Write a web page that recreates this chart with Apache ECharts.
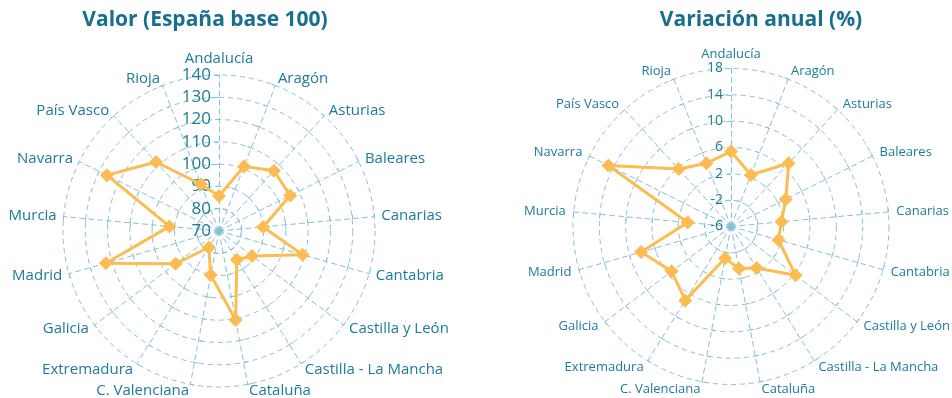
<!DOCTYPE html>
<html>
<head>
<meta charset="utf-8">
<script src="https://cdn.jsdelivr.net/npm/echarts@6/dist/echarts.min.js"></script>
</head>
<body style="margin:0; background:#fff">
<div id="container" style="width:952px; height:398px"></div>
<script>
// regions, clockwise from top as in the picture
var regions = ['Andalucía', 'Aragón', 'Asturias', 'Baleares', 'Canarias', 'Cantabria',
    'Castilla y León', 'Castilla - La Mancha', 'Cataluña', 'C. Valenciana', 'Extremadura',
    'Galicia', 'Madrid', 'Murcia', 'Navarra', 'País Vasco', 'Rioja'];
var valor = [85.7, 101, 106.6, 105.7, 89.9, 109, 88.6, 85.2, 110.6, 90.1, 78.7,
    94.4, 122.8, 92.3, 126.2, 111.9, 92.5];
var variacion = [5.4, 2.4, 7.0, 3.3, 1.7, 1.5, 6.3, 1.4, 0.5, -1.1, 7.2,
    5.3, 8.2, 0.6, 14.8, 5.8, 4.3];
var valorScale = [70, 140, 7];    // min, max, rings
var variacionScale = [-6, 18, 6];

var textColor = '#1b7b9b';
var gridColor = '#86c0d4';
var lineColor = '#fcbc52';
var font = 'Open Sans';

// echarts lays radar axes counterclockwise, the picture goes clockwise
function clockwise(arr) {
    return [arr[0]].concat(arr.slice(1).reverse());
}

function makeRadar(center, radius, scale, nameSize, labelSize, gap) {
    var names = clockwise(regions);
    return {
        center: center,
        radius: radius,
        shape: 'circle',
        startAngle: 90,
        splitNumber: scale[2],
        nameGap: gap,
        axisName: { color: textColor, fontSize: nameSize, fontFamily: font },
        indicator: names.map(function (n, i) {
            var ind = { name: n, min: scale[0], max: scale[1] };
            if (i === 0) {
                ind.axisLabel = {
                    show: true, color: textColor, fontSize: labelSize,
                    fontFamily: font, margin: 8
                };
            }
            return ind;
        }),
        axisLabel: { show: false },
        axisLine: { lineStyle: { color: gridColor, type: [5, 4], width: 1 } },
        axisTick: { show: true, length: 4, lineStyle: { color: gridColor } },
        splitLine: { lineStyle: { color: gridColor, type: [5, 4], width: 1 } },
        splitArea: { show: false }
    };
}

function makeSeries(idx, values) {
    return {
        type: 'radar',
        radarIndex: idx,
        symbol: 'diamond',
        symbolSize: 14,
        lineStyle: { color: lineColor, width: 3 },
        itemStyle: { color: lineColor },
        data: [{ value: clockwise(values) }]
    };
}

var myChart = echarts.init(document.getElementById('container'));
var option = {
    animation: false,
    title: [
        { text: 'Valor (España base 100)', left: 200, top: 5, textAlign: 'center',
          textStyle: { color: '#166f8d', fontSize: 21, fontWeight: 'bold', fontFamily: font } },
        { text: 'Variación anual (%)', left: 756, top: 5, textAlign: 'center',
          textStyle: { color: '#166f8d', fontSize: 21, fontWeight: 'bold', fontFamily: font } }
    ],
    radar: [
        makeRadar([219, 231], 156, valorScale, 15, 17, 7),
        makeRadar([731, 226.5], 158, variacionScale, 13, 14, 8)
    ],
    series: [
        makeSeries(0, valor),
        makeSeries(1, variacion)
    ]
};
myChart.setOption(option);
</script>
</body>
</html>
